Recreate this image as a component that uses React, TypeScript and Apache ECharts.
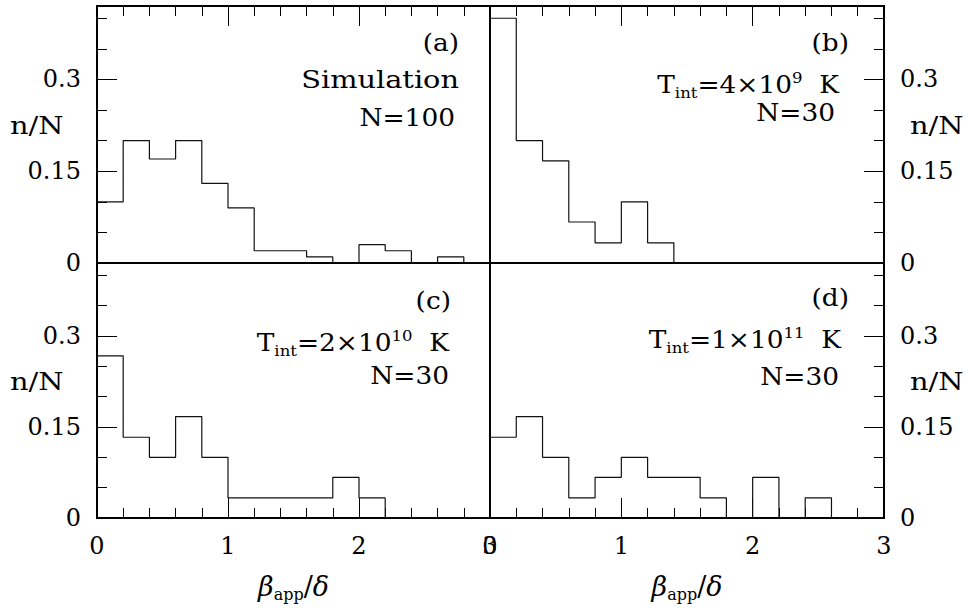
import React, { useEffect, useRef } from 'react';
import * as echarts from 'echarts';

// Left edges of the histogram bins (bin width 0.2) in beta_app/delta
const binStarts = [0, 0.2, 0.4, 0.6, 0.8, 1.0, 1.2, 1.4, 1.6, 1.8, 2.0, 2.2, 2.4, 2.6, 2.8];
const binEnd = 3;

// n/N per bin
const simValues = [0.1, 0.2, 0.17, 0.2, 0.13, 0.09, 0.02, 0.02, 0.01, 0, 0.03, 0.02, 0, 0.01, 0];
const t4e9Values = [0.4, 0.2, 0.167, 0.067, 0.033, 0.1, 0.033, 0, 0, 0, 0, 0, 0, 0, 0];
const t2e10Values = [0.267, 0.133, 0.1, 0.167, 0.1, 0.033, 0.033, 0.033, 0.033, 0.067, 0.033, 0, 0, 0, 0];
const t1e11Values = [0.133, 0.167, 0.1, 0.033, 0.067, 0.1, 0.067, 0.067, 0.033, 0, 0.067, 0, 0.033, 0, 0];

const xTickLabels = ['0', '1', '2', '3'];
const yMajorTicks = [0, 0.15, 0.3];
const yTickLabels = ['0', '0.15', '0.3'];
const xMin = 0;
const xMax = 3;
const yMin = 0;
const yMax = 0.42;

const FONT = 'DejaVu Serif';
const FS = 24;

function stepData(values: number[]) {
  const d = binStarts.map((x, i) => [x, values[i]]);
  d.push([binEnd, 0]);
  return d;
}

const mainRich = {
  m: { fontFamily: FONT, fontSize: FS, color: '#000', lineHeight: 30, verticalAlign: 'middle' },
  sub: { fontFamily: FONT, fontSize: 15, color: '#000', lineHeight: 10, verticalAlign: 'bottom' },
  sup: { fontFamily: FONT, fontSize: 15, color: '#000', lineHeight: 22, verticalAlign: 'top' },
};

function txt(x: number, y: number, text: string, align = 'right', rich = false, sx = 1.1) {
  return {
    type: 'text',
    x,
    y,
    scaleX: sx,
    style: {
      text,
      fill: '#000',
      fontFamily: FONT,
      fontSize: FS,
      align,
      verticalAlign: 'middle',
      ...(rich ? { rich: mainRich } : {}),
    },
  };
}

export default function App() {
  const ref = useRef<HTMLDivElement>(null);
  useEffect(() => {
    const chart = echarts.init(ref.current!, null, { renderer: 'svg' });
    const gridBoxes = [
      { left: 97, top: 6, width: 393, height: 257 },
      { left: 490, top: 6, width: 394, height: 257 },
      { left: 97, top: 263, width: 393, height: 255 },
      { left: 490, top: 263, width: 394, height: 255 },
    ];
    const grids = gridBoxes.map((g) => ({ ...g, show: true, borderColor: '#000', borderWidth: 2 }));

    const tickStyle = { color: '#000', width: 1 };
    const xAxes = gridBoxes.map((_, i) => ({
      type: 'value',
      gridIndex: i,
      min: xMin,
      max: xMax,
      interval: 1,
      position: i < 2 ? 'top' : 'bottom',
      axisLine: { show: false, onZero: false },
      splitLine: { show: false },
      axisTick: { show: true, inside: true, length: 20, lineStyle: tickStyle },
      minorTick: { show: true, splitNumber: 5, length: 10, lineStyle: tickStyle },
      axisLabel: {
        show: i >= 2,
        margin: 16,
        fontFamily: FONT,
        fontSize: FS,
        color: '#000',
        showMinLabel: true,
        showMaxLabel: true,
        formatter: (v: number) => xTickLabels[Math.round(v)],
      },
      name: i >= 2 ? '{g|β}{s|app}{r|/}{g|δ}' : '',
      nameLocation: 'middle',
      nameGap: 52,
      nameTextStyle: {
        rich: {
          g: { fontFamily: FONT, fontStyle: 'italic', fontSize: 27, color: '#000', lineHeight: 32, verticalAlign: 'middle' },
          r: { fontFamily: FONT, fontSize: 27, color: '#000', lineHeight: 32, verticalAlign: 'middle' },
          s: { fontFamily: FONT, fontSize: 16, color: '#000', lineHeight: 10, verticalAlign: 'bottom' },
        },
      },
    }));

    const yAxes: any[] = [];
    gridBoxes.forEach((_, i) => {
      const pos = i % 2 === 0 ? 'left' : 'right';
      yAxes.push({
        type: 'value',
        gridIndex: i,
        min: yMin,
        max: yMax,
        interval: 0.05,
        position: pos,
        axisLine: { show: false, onZero: false },
        splitLine: { show: false },
        axisTick: { show: true, inside: true, length: 10, lineStyle: tickStyle },
        axisLabel: { show: false },
      });
      yAxes.push({
        type: 'value',
        gridIndex: i,
        min: yMin,
        max: yMax,
        interval: 0.15,
        position: pos,
        axisLine: { show: false, onZero: false },
        splitLine: { show: false },
        axisTick: { show: true, inside: true, length: 20, lineStyle: tickStyle },
        axisLabel: {
          show: true,
          margin: 16,
          fontFamily: FONT,
          fontSize: FS,
          color: '#000',
          showMinLabel: true,
          showMaxLabel: false,
          formatter: (v: number) => {
            const k = yMajorTicks.findIndex((t) => Math.abs(t - v) < 1e-6);
            return k >= 0 ? yTickLabels[k] : '';
          },
        },
      });
    });

    const valuesList = [simValues, t4e9Values, t2e10Values, t1e11Values];
    const series = valuesList.map((vals, i) => ({
      type: 'line',
      xAxisIndex: i,
      yAxisIndex: 2 * i + 1,
      step: 'end',
      symbol: 'none',
      data: stepData(vals),
      lineStyle: { color: '#111', width: 1.2 },
      silent: true,
    }));

    const graphic = [
      txt(459, 43, '(a)'),
      txt(459, 79, 'Simulation', 'right', false, 1.2),
      txt(455, 118, 'N=100'),
      txt(849, 43, '(b)'),
      txt(839, 85, '{m|T}{sub|int}{m|=4×10}{sup|9}{m|  K}', 'right', true),
      txt(835, 113, 'N=30'),
      txt(451, 301, '(c)'),
      txt(449, 343, '{m|T}{sub|int}{m|=2×10}{sup|10}{m|  K}', 'right', true),
      txt(449, 376, 'N=30'),
      txt(849, 298, '(d)'),
      txt(841, 340, '{m|T}{sub|int}{m|=1×10}{sup|11}{m|  K}', 'right', true),
      txt(839, 377, 'N=30'),
      txt(10, 125, 'n/N', 'left', false, 1.2),
      txt(10, 381, 'n/N', 'left', false, 1.2),
      txt(910, 125, 'n/N', 'left', false, 1.2),
      txt(910, 381, 'n/N', 'left', false, 1.2),
    ];

    chart.setOption({
      animation: false,
      backgroundColor: '#fff',
      grid: grids,
      xAxis: xAxes,
      yAxis: yAxes,
      series,
      graphic,
    } as any);
    return () => chart.dispose();
  }, []);
  return <div ref={ref} style={{ position: 'absolute', left: 0, top: 0, width: 968, height: 608 }} />;
}
